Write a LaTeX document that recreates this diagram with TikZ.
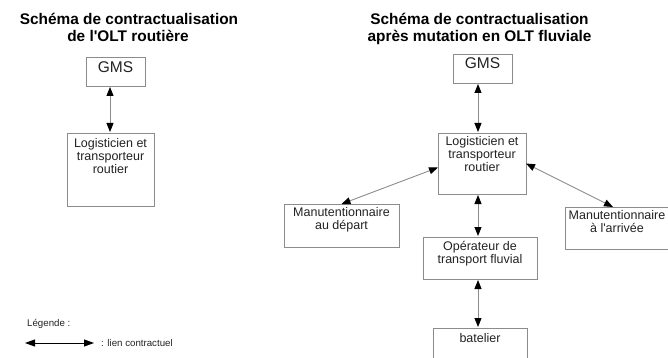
\documentclass[tikz,border=0pt]{standalone}
\usepackage{fontspec}
\setmainfont{Liberation Sans}[Ligatures=TeXOff]
\usetikzlibrary{arrows.meta}
\definecolor{ln}{HTML}{8C8C8C}
\definecolor{bx}{HTML}{8C8C8C}
\definecolor{tx}{HTML}{222222}
\begin{document}
\begin{tikzpicture}[x=1pt,y=-1pt,
  box/.style={draw=bx, line width=0.9pt, anchor=north west, inner sep=0pt, outer sep=0pt},
  txt/.style={anchor=north, inner sep=0pt, align=center, text=tx,
    font=\fontsize{12.5}{13}\selectfont, execute at begin node={\rule{0pt}{12pt}}},
  gmstxt/.style={anchor=base, inner sep=0pt, text=tx, font=\fontsize{15.5}{17}\selectfont},
  title/.style={anchor=base, inner sep=0pt, text=black, font=\bfseries\fontsize{15.4}{18}\selectfont},
  link/.style={draw=ln, line width=0.9pt, shorten <=1pt, shorten >=1pt,
    {Triangle[length=9pt,width=7pt,color=black]}-{Triangle[length=9pt,width=7pt,color=black]}},
  legtxt/.style={anchor=base west, inner sep=0pt, text=tx, font=\fontsize{9.7}{11}\selectfont}
]
\useasboundingbox (0,0) rectangle (668,358);

% titles
\node[title] (t1a) at (129,25) {Schéma de contractualisation};
\node[title] (t1b) at (128,42) {de l'OLT routière};
\node[title] (t2a) at (479.5,25) {Schéma de contractualisation};
\node[title] (t2b) at (479.5,42) {après mutation en OLT fluviale};

% left diagram
\node[box, minimum width=59pt, minimum height=29pt] (gms1) at (86,57) {};
\node[gmstxt] (gms1t) at (115.5,73) {GMS};
\node[box, minimum width=87pt, minimum height=73pt] (lg1) at (67,133) {};
\node[txt] (lg1t) at (110.5,138) {Logisticien et\\transporteur\\routier};
\coordinate (c1) at (110,0);
\draw[link] (gms1.south -| c1) -- (lg1.north -| c1);

% right diagram
\node[box, minimum width=59pt, minimum height=29pt] (gms2) at (453,54) {};
\node[gmstxt] (gms2t) at (482.5,69) {GMS};
\node[box, minimum width=88pt, minimum height=61pt] (lg2) at (438,133) {};
\node[txt] (lg2t) at (482,136) {Logisticien et\\transporteur\\routier};
\node[box, minimum width=115pt, minimum height=43pt] (md) at (284,204) {};
\node[txt] (mdt) at (341.5,207) {Manutentionnaire\\au départ};
\node[box, minimum width=106pt, minimum height=42pt] (ma) at (565,207) {};
\node[txt] (mat) at (617,210.5) {Manutentionnaire\\à l'arrivée};
\node[box, minimum width=114pt, minimum height=42pt] (op) at (423,237) {};
\node[txt] (opt) at (480,241) {Opérateur de\\transport fluvial};
\node[box, minimum width=94pt, minimum height=40pt] (bat) at (433,328) {};
\node[txt] (batt) at (480,330) {batelier};

\coordinate (c2) at (478,0);
\draw[link] (gms2.south -| c2) -- (lg2.north -| c2);
\draw[link] (lg2.south -| c2) -- (op.north -| c2);
\draw[link] (op.south -| c2) -- (bat.north -| c2);
\draw[link, shorten <=0pt, shorten >=0pt] ([yshift=-4pt]lg2.west) -- (md.north);
\draw[link, shorten <=0pt, shorten >=0pt] (lg2.east) -- ([xshift=-5pt]ma.north);

% legend
\node[legtxt] (leg) at (27,326) {Légende :};
\coordinate (la) at (25,343);
\coordinate (lb) at (94,343);
\draw[link, draw=black, shorten <=0pt, shorten >=0pt,
  {Triangle[length=10pt,width=7pt]}-{Triangle[length=10pt,width=7pt]}] (la) -- (lb);
\node[legtxt] (legl) at (101,346) {: lien contractuel};
\end{tikzpicture}
\end{document}
